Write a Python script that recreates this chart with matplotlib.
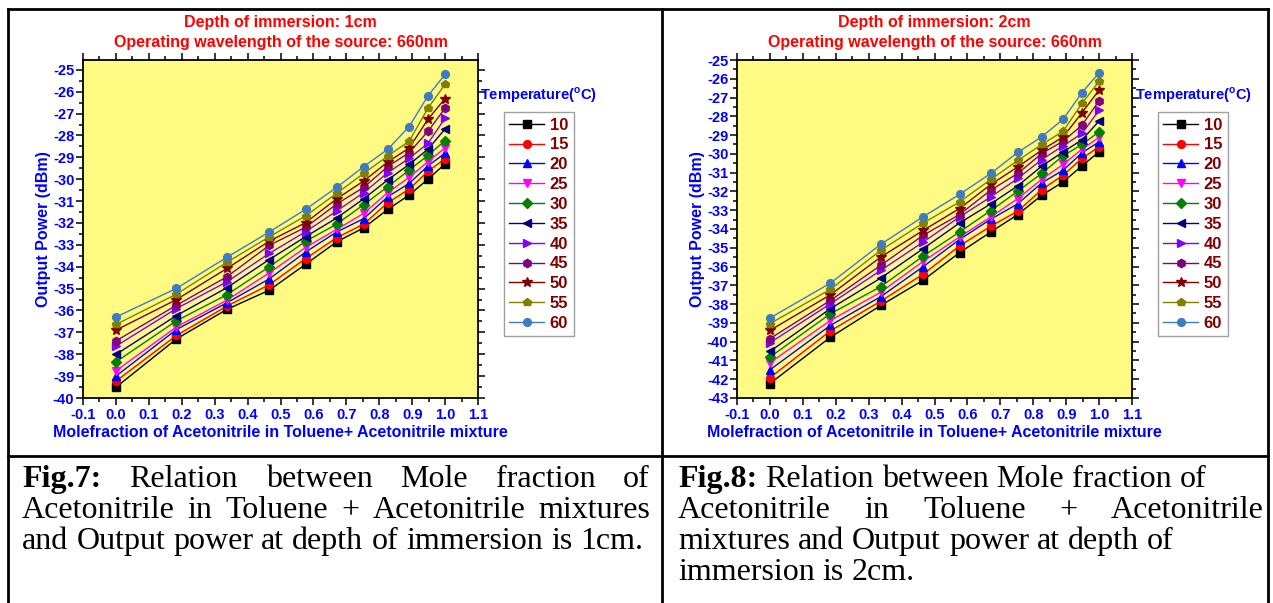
import matplotlib
matplotlib.use("Agg")
import matplotlib.pyplot as plt
from matplotlib.lines import Line2D
from matplotlib.ticker import MultipleLocator, FormatStrFormatter
import numpy as np

# ---------------------------------------------------------------- data
mole_fraction = [0.0, 0.184, 0.337, 0.466, 0.576, 0.671, 0.753, 0.826, 0.891, 0.948, 1.0]
temperatures = [10, 15, 20, 25, 30, 35, 40, 45, 50, 55, 60]

# Output power (dBm), depth of immersion 1 cm
d1_10C = [-39.51, -37.30, -35.95, -35.07, -33.89, -32.86, -32.22, -31.38, -30.72, -30.00, -29.30]
d1_15C = [-39.23, -37.14, -35.80, -34.82, -33.63, -32.67, -32.05, -31.07, -30.45, -29.64, -29.06]
d1_20C = [-39.00, -36.87, -35.65, -34.55, -33.33, -32.41, -31.80, -30.80, -30.19, -29.39, -28.81]
d1_25C = [-38.76, -36.75, -35.53, -34.28, -33.12, -32.29, -31.56, -30.61, -29.91, -29.20, -28.57]
d1_30C = [-38.35, -36.47, -35.28, -34.00, -32.84, -32.05, -31.16, -30.34, -29.58, -28.91, -28.23]
d1_35C = [-38.01, -36.23, -34.96, -33.67, -32.63, -31.77, -30.89, -30.03, -29.32, -28.63, -27.70]
d1_40C = [-37.63, -35.91, -34.69, -33.39, -32.40, -31.45, -30.61, -29.70, -29.04, -28.36, -27.21]
d1_45C = [-37.39, -35.76, -34.46, -33.02, -32.20, -31.13, -30.37, -29.42, -28.78, -27.81, -26.75]
d1_50C = [-36.90, -35.50, -34.08, -32.83, -31.99, -30.89, -30.08, -29.21, -28.57, -27.26, -26.31]
d1_55C = [-36.64, -35.25, -33.80, -32.63, -31.68, -30.64, -29.73, -28.94, -28.26, -26.75, -25.66]
d1_60C = [-36.30, -34.99, -33.57, -32.41, -31.38, -30.37, -29.42, -28.63, -27.59, -26.19, -25.21]

# Output power (dBm), depth of immersion 2 cm
d2_10C = [-42.23, -39.76, -38.07, -36.72, -35.26, -34.16, -33.23, -32.20, -31.49, -30.64, -29.89]
d2_15C = [-41.92, -39.42, -37.84, -36.40, -34.90, -33.85, -33.05, -31.90, -31.13, -30.24, -29.62]
d2_20C = [-41.50, -39.13, -37.60, -36.00, -34.56, -33.48, -32.66, -31.54, -30.87, -29.94, -29.36]
d2_25C = [-41.12, -38.87, -37.36, -35.72, -34.42, -33.36, -32.38, -31.35, -30.56, -29.75, -29.12]
d2_30C = [-40.82, -38.51, -37.07, -35.44, -34.16, -33.02, -31.99, -31.03, -30.10, -29.50, -28.82]
d2_35C = [-40.52, -38.24, -36.61, -35.04, -33.68, -32.66, -31.70, -30.65, -29.89, -29.25, -28.25]
d2_40C = [-40.06, -37.98, -36.20, -34.69, -33.36, -32.29, -31.31, -30.30, -29.57, -28.91, -27.68]
d2_45C = [-39.84, -37.80, -35.93, -34.33, -33.23, -31.93, -31.04, -29.98, -29.32, -28.47, -27.17]
d2_50C = [-39.40, -37.50, -35.49, -34.07, -32.91, -31.63, -30.69, -29.80, -29.09, -27.81, -26.60]
d2_55C = [-39.04, -37.21, -35.13, -33.68, -32.56, -31.36, -30.35, -29.50, -28.79, -27.31, -26.14]
d2_60C = [-38.74, -36.88, -34.81, -33.34, -32.16, -31.04, -29.92, -29.09, -28.15, -26.74, -25.68]

depth1_series = [d1_10C, d1_15C, d1_20C, d1_25C, d1_30C, d1_35C, d1_40C, d1_45C, d1_50C, d1_55C, d1_60C]
depth2_series = [d2_10C, d2_15C, d2_20C, d2_25C, d2_30C, d2_35C, d2_40C, d2_45C, d2_50C, d2_55C, d2_60C]

# ---------------------------------------------------------------- style
colors = ["#000000", "#FF0000", "#0000FF", "#FF00FF", "#008000", "#000080",
          "#8000FF", "#800080", "#800000", "#808000", "#3F7CBF"]
markers = ["s", "o", "^", "v", "D", "<", ">", "h", "*", "p", "o"]
msizes = [5.2, 5.6, 5.6, 5.6, 4.8, 5.6, 5.6, 6, 7.2, 6.2, 5.6]

plt.rcParams["font.family"] = ["Liberation Sans", "DejaVu Sans"]
plt.rcParams["font.weight"] = "bold"
plt.rcParams["axes.labelweight"] = "bold"
plt.rcParams["mathtext.fontset"] = "custom"
plt.rcParams["mathtext.rm"] = "Liberation Sans"
plt.rcParams["mathtext.bf"] = "Liberation Sans:bold"

W, H = 1273, 603
fig = plt.figure(figsize=(W / 100, H / 100), dpi=100)
fig.patch.set_facecolor("white")


def fx(x):
    return x / W


def fy(y):
    return 1 - y / H


def px_rect(left, top, right, bottom):
    return [fx(left), fy(bottom), (right - left) / W, (bottom - top) / H]


BLUE = "#0000FF"
RED = "#FF0000"
MAROON = "#800000"


def draw_panel(rect, series, ymin, ymax, depth_text, legend_xy, legend_title_xy):
    ax = fig.add_axes(px_rect(*rect))
    ax.set_facecolor("#FFFA82")
    for temp, vals, c, m, ms in zip(temperatures, series, colors, markers, msizes):
        ax.plot(mole_fraction, vals, color=c, marker=m, markersize=ms,
                markeredgecolor=c, linewidth=1.0, label=str(temp))
    ax.set_xlim(-0.1, 1.1)
    ax.set_ylim(ymin, ymax)
    ax.xaxis.set_major_locator(MultipleLocator(0.1))
    ax.xaxis.set_minor_locator(MultipleLocator(0.05))
    ax.yaxis.set_major_locator(MultipleLocator(1))
    ax.yaxis.set_minor_locator(MultipleLocator(0.5))
    ax.xaxis.set_major_formatter(FormatStrFormatter("%.1f"))
    ax.yaxis.set_major_formatter(FormatStrFormatter("%d"))
    ax.tick_params(which="both", direction="out", top=True, right=True,
                   width=1.1, color="black", labelcolor=BLUE, labelsize=10.5)
    ax.tick_params(which="major", length=4.8)
    ax.tick_params(which="minor", length=2.6)
    ax.tick_params(axis="y", pad=1.5)
    ax.tick_params(axis="x", pad=2.5)
    for lbl in ax.get_xticklabels() + ax.get_yticklabels():
        lbl.set_fontweight("bold")
    for sp in ax.spines.values():
        sp.set_linewidth(1.3)
    ax.set_xlabel("Molefraction of Acetonitrile in Toluene+ Acetonitrile mixture",
                  color=BLUE, fontsize=11.5, fontweight="bold")
    ax.set_ylabel("Output Power (dBm)", color=BLUE, fontsize=11.5, fontweight="bold")
    ax.xaxis.set_label_coords(0.5, -0.08)
    ax.yaxis.set_label_coords(-0.08, 0.5)

    cx = fx((rect[0] + rect[2]) / 2)
    fig.text(cx, fy(27), depth_text, ha="center", va="baseline",
             color=RED, fontsize=11.5, fontweight="bold")
    fig.text(cx, fy(47), "Operating wavelength of the source: 660nm",
             ha="center", va="baseline", color=RED, fontsize=11.5, fontweight="bold")

    leg = ax.legend(loc="upper left", bbox_to_anchor=(fx(legend_xy[0]), fy(legend_xy[1])),
                    bbox_transform=fig.transFigure, borderaxespad=0, frameon=True,
                    fancybox=False, edgecolor="#A0A0A0", framealpha=1,
                    prop={"size": 12, "weight": "bold"}, handlelength=2.1,
                    handletextpad=0.35, labelspacing=0.29, borderpad=0.32,
                    numpoints=1)
    leg.get_frame().set_linewidth(1.0)
    for t in leg.get_texts():
        t.set_color(MAROON)
    fig.text(fx(legend_title_xy[0]), fy(legend_title_xy[1]),
             r"Temperature($^{\mathbf{o}}$C)", ha="left", va="center",
             color=BLUE, fontsize=10.5, fontweight="bold")
    return ax


draw_panel((83, 60, 478, 398), depth1_series, -40, -24.55,
           "Depth of immersion: 1cm", (503.7, 112.3), (480.5, 95))
draw_panel((737, 60, 1132, 398), depth2_series, -43, -25,
           "Depth of immersion: 2cm", (1157.7, 112.3), (1135, 95))

# ---------------------------------------------------------------- table grid
def hline(y, x0, x1, lw=2.0):
    fig.add_artist(Line2D([fx(x0), fx(x1)], [fy(y), fy(y)], transform=fig.transFigure,
                          color="black", linewidth=lw, solid_capstyle="projecting"))


def vline(x, y0, y1, lw=2.0):
    fig.add_artist(Line2D([fx(x), fx(x)], [fy(y0), fy(y1)], transform=fig.transFigure,
                          color="black", linewidth=lw, solid_capstyle="projecting"))


hline(8.5, 8, 1268)
hline(456, 8, 1268)
vline(8, 8.5, 603)
vline(662, 8.5, 603)
vline(1268, 8.5, 603)

# ---------------------------------------------------------------- captions
CAP_SIZE = 23
renderer = fig.canvas.get_renderer()


def caption_line(words, x0, y, x1=None):
    """Place (text, weight) words on one baseline; justify when x1 is given."""
    arts = [fig.text(0, fy(y), w, fontsize=CAP_SIZE, family="Liberation Serif",
                     weight=wt, va="baseline", ha="left", color="black")
            for w, wt in words]
    widths = [a.get_window_extent(renderer).width for a in arts]
    if x1 is None or len(words) == 1:
        probe = fig.text(0, 0, "a a", fontsize=CAP_SIZE, family="Liberation Serif",
                         weight="normal")
        probe2 = fig.text(0, 0, "aa", fontsize=CAP_SIZE, family="Liberation Serif",
                          weight="normal")
        gap = probe.get_window_extent(renderer).width - probe2.get_window_extent(renderer).width
        probe.remove()
        probe2.remove()
    else:
        gap = (x1 - x0 - sum(widths)) / (len(words) - 1)
    x = x0
    for a, w in zip(arts, widths):
        a.set_x(fx(x))
        x += w + gap


def words_of(text, first_bold=False):
    out = [(w, "normal") for w in text.split()]
    if first_bold:
        out[0] = (out[0][0], "bold")
    return out


caption_line(words_of("Fig.7: Relation between Mole fraction of", True), 22, 487, 650)
caption_line(words_of("Acetonitrile in Toluene + Acetonitrile mixtures"), 22, 518, 650)
caption_line(words_of("and Output power at depth of immersion is 1cm."), 22, 549)

caption_line(words_of("Fig.8: Relation between Mole fraction of", True), 678, 487)
caption_line(words_of("Acetonitrile in Toluene + Acetonitrile"), 678, 518, 1264)
caption_line(words_of("mixtures and Output power at depth of"), 678, 549)
caption_line(words_of("immersion is 2cm."), 678, 580)

fig.savefig("out.png", dpi=100, facecolor="white")
